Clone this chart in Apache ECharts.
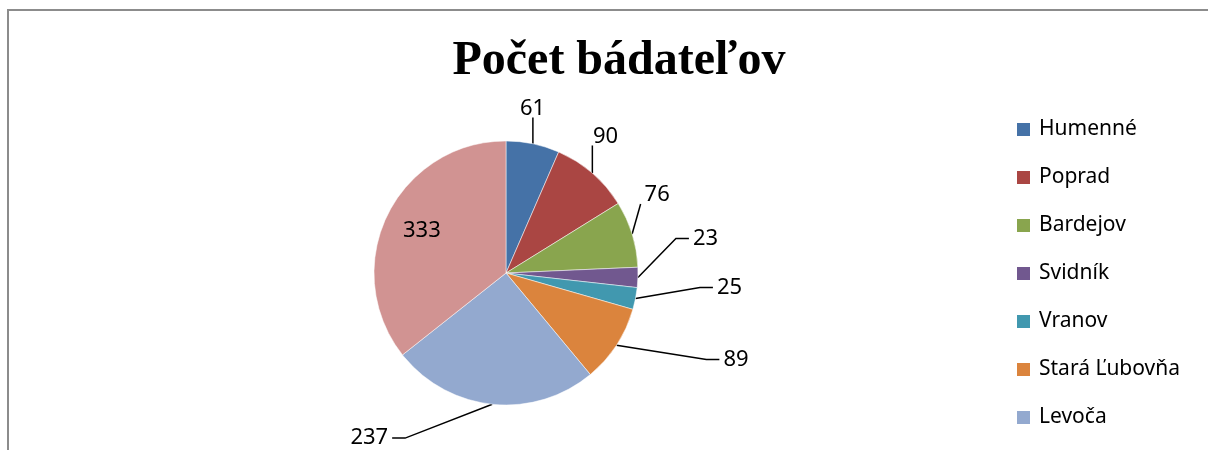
<!DOCTYPE html>
<html>
<head>
<meta charset="utf-8">
<script src="https://cdn.jsdelivr.net/npm/echarts@6/dist/echarts.min.js"></script>
<style>
  html, body { margin: 0; padding: 0; background: #fff; }
  #main { width: 1208px; height: 450px; }
</style>
</head>
<body>
<div id="main"></div>
<script>
// data
var titleText = 'Počet bádateľov';
var categories = ['Humenné', 'Poprad', 'Bardejov', 'Svidník', 'Vranov', 'Stará Ľubovňa', 'Levoča', 'Prešov'];
var values = [61, 90, 76, 23, 25, 89, 237, 333];
var colors = ['#4572A7', '#AA4643', '#89A54E', '#71588F', '#4198AF', '#DB843D', '#93A9CF', '#D19392'];
// leader line lengths per slice [first, second]
var lineLens = [[30, 4], [30, 6], [34, 6], [30, 30], [30, 36], [50, 52], [30, 86], [0, 0]];
// nudges of the value labels from where echarts puts them
var labelShift = [[-28, -6], [-30, -14], [-31, -29], [-10, -40], [11, -17], [8, -13], [-10, 4], [0, 0]];
// how the leader line meets the label: under it, or from the side with a short elbow
var lineKind = ['below', 'below', 'below', 'side', 'side', 'side', 'side', 'none'];

var chart = echarts.init(document.getElementById('main'));

var pieData = [];
for (var i = 0; i < categories.length; i++) {
    var item = {
        name: categories[i],
        value: values[i],
        labelLine: { length: lineLens[i][0], length2: lineLens[i][1] }
    };
    if (i === categories.length - 1) {
        // biggest slice keeps its number inside
        item.label = { position: 'inside', offset: [-22, -12] };
        item.labelLine = { show: false };
    }
    pieData.push(item);
}

function layoutLabel(p) {
    var s = labelShift[p.dataIndex];
    var kind = lineKind[p.dataIndex];
    var out = { dx: s[0], dy: s[1] };
    if (kind === 'none' || !p.labelLinePoints) return out;
    var r = p.labelRect;
    var x = r.x + s[0], y = r.y + s[1], w = r.width, h = r.height;
    var start = p.labelLinePoints[0];
    var end, mid;
    if (kind === 'below') {
        var ex = Math.min(Math.max(start[0], x - 4), x + w);
        end = [ex, y + h - 2];
        out.labelLinePoints = [start, end, end];
    } else {
        var left = start[0] > x;
        var cy = y + h / 2;
        end = left ? [x + w + 4, cy] : [x - 4, cy];
        mid = left ? [end[0] + 13, cy] : [end[0] - 13, cy];
        out.labelLinePoints = [start, mid, end];
    }
    return out;
}

var option = {
    animation: false,
    color: colors,
    title: {
        text: titleText,
        left: 614,
        textAlign: 'center',
        top: 33,
        textStyle: {
            fontFamily: 'Liberation Serif',
            fontWeight: 'bold',
            fontSize: 48,
            color: '#000'
        }
    },
    legend: {
        orient: 'vertical',
        left: 1010,
        top: 114,
        height: 800,
        itemWidth: 15,
        itemHeight: 15,
        itemGap: 27,
        icon: 'rect',
        textStyle: {
            fontFamily: 'Noto Sans',
            fontSize: 21,
            color: '#000',
            padding: [0, 0, 0, 3]
        },
        data: categories
    },
    graphic: [{
        type: 'rect',
        shape: { x: 8, y: 10, width: 1400, height: 600 },
        style: { fill: null, stroke: '#8c8c8c', lineWidth: 2 },
        silent: true
    }],
    series: [{
        type: 'pie',
        center: [506, 273],
        radius: 132,
        startAngle: 90,
        clockwise: true,
        data: pieData,
        label: {
            show: true,
            formatter: '{c}',
            fontFamily: 'Noto Sans',
            fontSize: 22,
            color: '#000',
            alignTo: 'none'
        },
        labelLine: {
            show: true,
            lineStyle: { color: '#000', width: 1.5 }
        },
        labelLayout: layoutLabel,
        itemStyle: { borderColor: '#fff', borderWidth: 0.5 },
        emphasis: { disabled: true }
    }]
};

chart.setOption(option);
</script>
</body>
</html>
